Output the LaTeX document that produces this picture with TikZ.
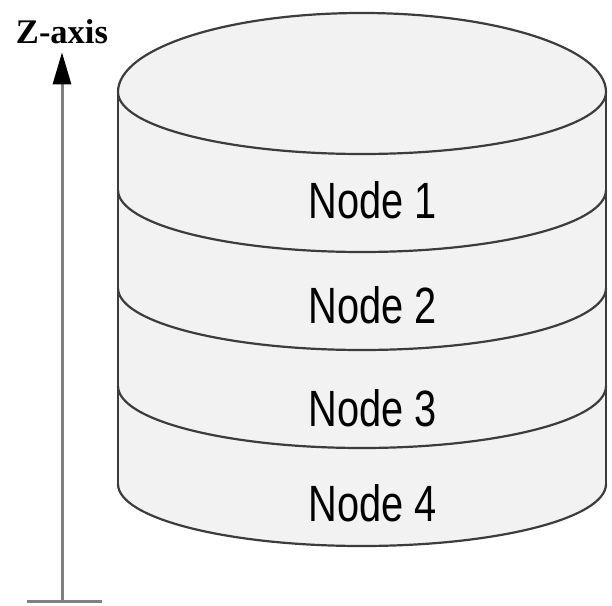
\documentclass[tikz,border=0pt]{standalone}
\usepackage{fontspec}
\setmainfont{Liberation Serif}
\newfontfamily\labelfont{Liberation Sans}
\usepackage{tikz}
\usetikzlibrary{arrows.meta, positioning}
\definecolor{diskfill}{HTML}{F2F2F2}
\definecolor{diskline}{HTML}{3C3C3C}
\definecolor{axisline}{HTML}{808080}

\begin{document}
\begin{tikzpicture}[
    x=1pt, y=1pt,
    disk/.style={draw=diskline, line width=2.2pt, fill=diskfill},
    rim/.style={draw=diskline, line width=2.2pt},
    nodetext/.style={font=\labelfont\fontsize{51}{56}\selectfont, xscale=0.78, inner sep=0pt},
    axis/.style={draw=axisline, line width=3pt},
    axistext/.style={font=\bfseries\fontsize{34.5}{40}\selectfont, inner sep=2pt}
]
    \useasboundingbox (0,0) rectangle (612,605);

    % cylinder body
    \fill[diskfill] (118,513) -- (118,121) arc[start angle=180, end angle=360, x radius=244, y radius=62]
        -- (606,513) -- cycle;
    \draw[rim] (118,513) -- (118,121);
    \draw[rim] (606,513) -- (606,121);

    % top face
    \draw[disk] (118,513) arc[start angle=180, end angle=0, x radius=244, y radius=79]
        arc[start angle=0, end angle=-180, x radius=244, y radius=62] -- cycle;

    % separators between layers
    \foreach \h in {415,317,219,121}
        \draw[rim] (118,\h) arc[start angle=180, end angle=360, x radius=244, y radius=62];

    % layer labels
    \node[nodetext] (node1) at (373,405) {Node 1};
    \node[nodetext] (node2) at (373,300) {Node 2};
    \node[nodetext] (node3) at (373,197) {Node 3};
    \node[nodetext] (node4) at (373,102) {Node 4};

    % z axis
    \node[axistext] (zlabel) at (62,573) {Z-axis};
    \coordinate (zbase) at (62,4);
    \draw[axis, -{Triangle[length=32pt, width=18pt, color=black]}, shorten >=6pt] (zbase) -- (zlabel.south);
    \draw[axis] ([xshift=-35pt]zbase) -- ([xshift=40pt]zbase);
\end{tikzpicture}
\end{document}
